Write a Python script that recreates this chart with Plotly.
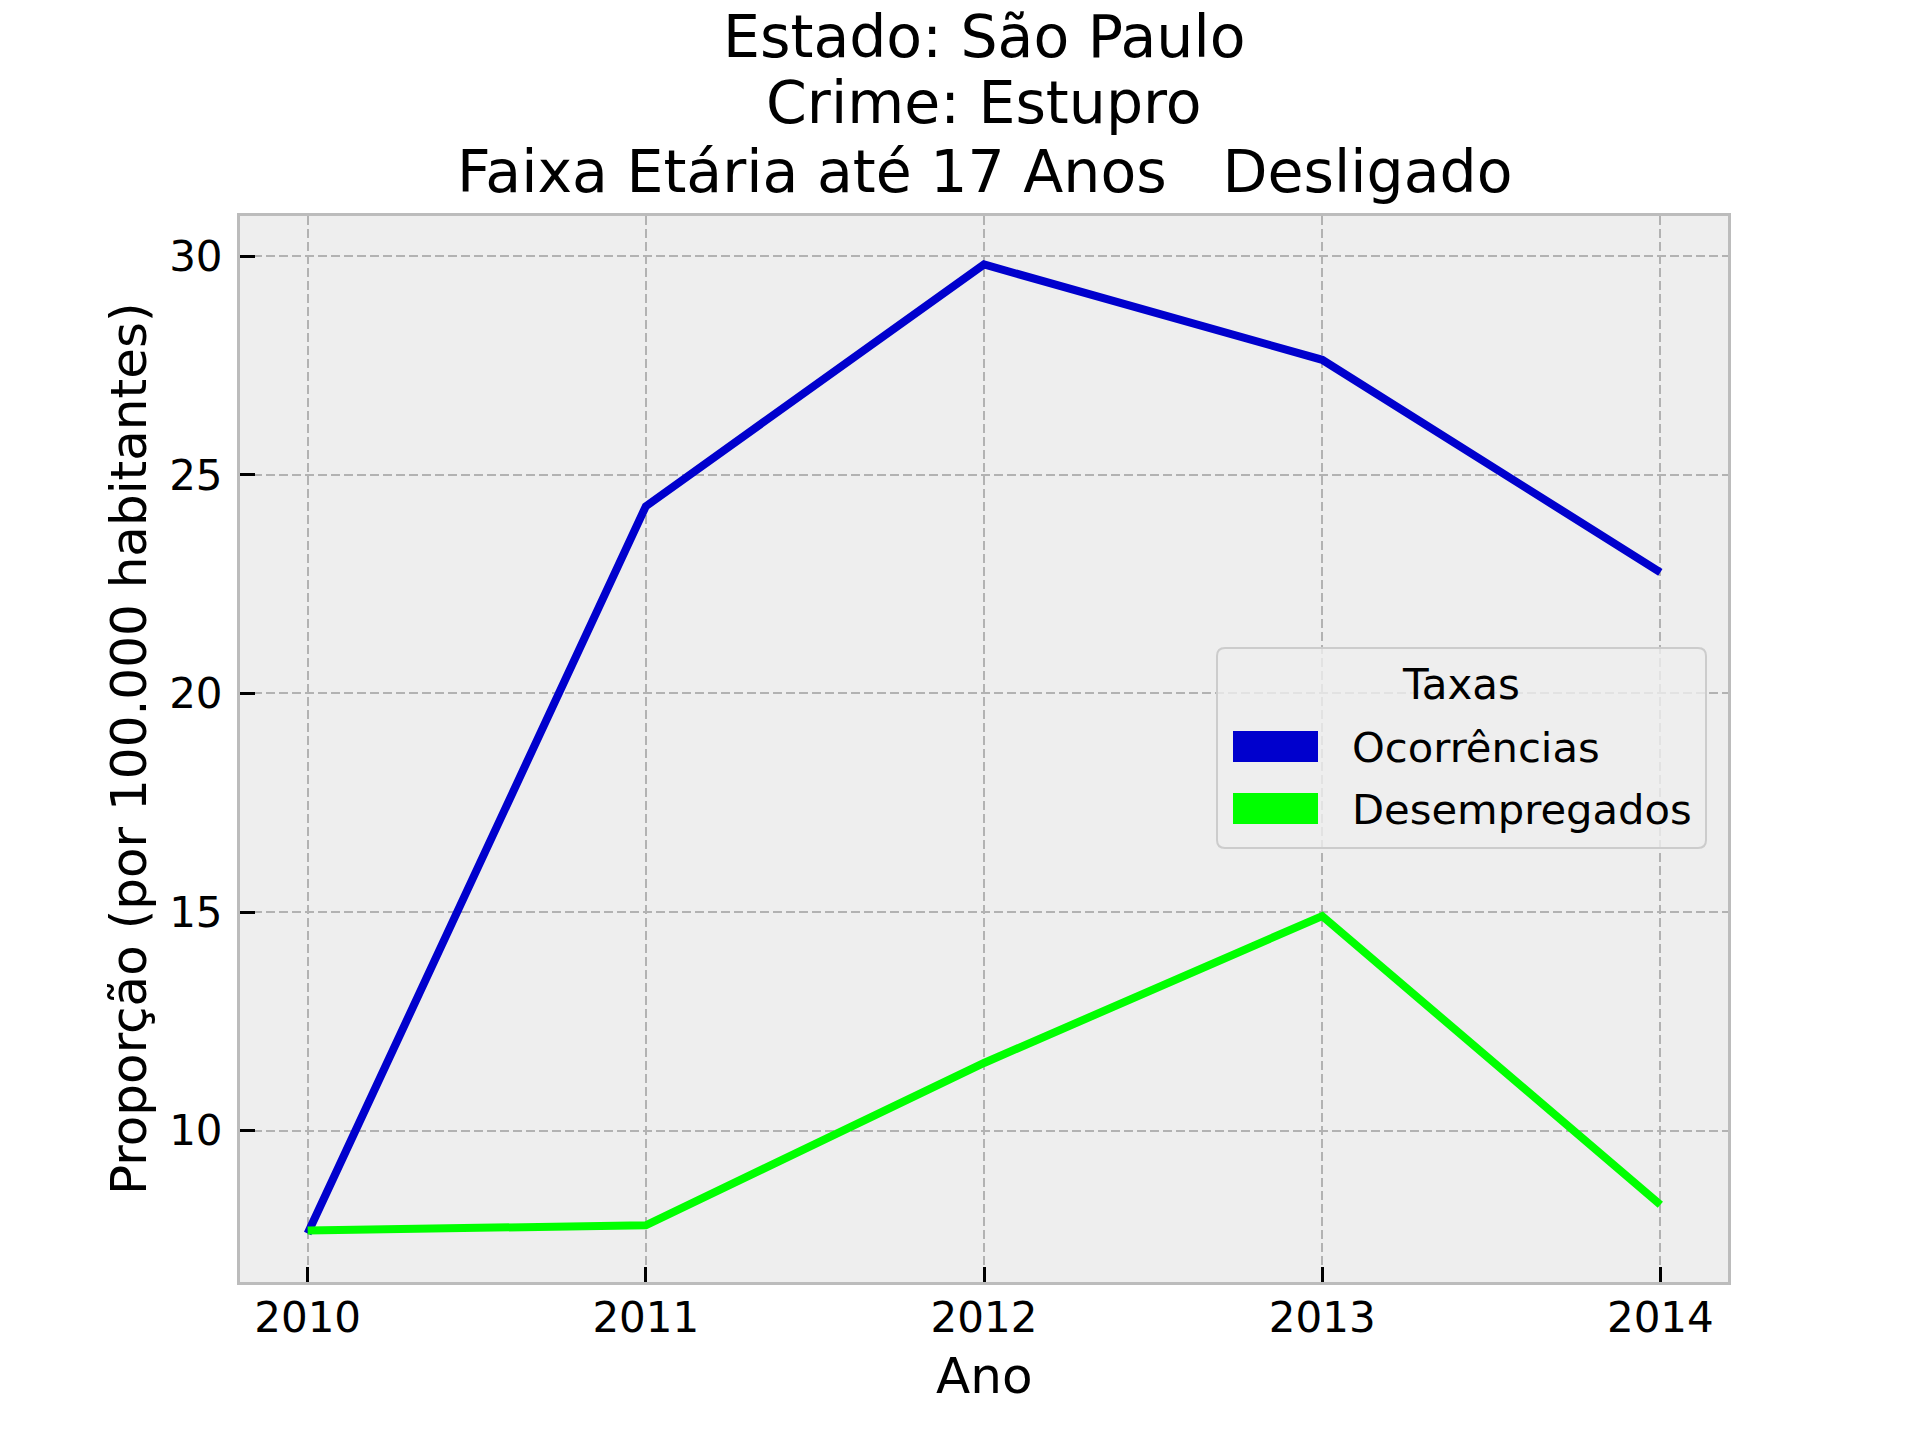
import plotly.graph_objects as go

# ---- data ----
anos = [2010, 2011, 2012, 2013, 2014]
ocorrencias = [7.65, 24.28, 29.81, 27.63, 22.77]
desempregados = [7.72, 7.84, 11.55, 14.91, 8.31]
serie_nomes = ["Ocorrências", "Desempregados"]
serie_cores = ["#0000CD", "#00FF00"]
titulo_linhas = ["Estado: São Paulo", "Crime: Estupro", "Faixa Etária até 17 Anos   Desligado"]
y_ticks = [10, 15, 20, 25, 30]
x_titulo = "Ano"
y_titulo = "Proporção (por 100.000 habitantes)"
legenda_titulo = "Taxas"

W, H = 1920, 1440
L, R, T, B = 240, 1728, 216, 1282
PW, PH = R - L, B - T

def px(xp):
    return (xp - L) / PW

def py(yp):
    return (B - yp) / PH

FONT = "DejaVu Sans"

allv = ocorrencias + desempregados
lo, hi = min(allv), max(allv)
pad = 0.05 * (hi - lo)
yr = [lo - pad, hi + pad]
xr = [anos[0] - 0.05 * (anos[-1] - anos[0]), anos[-1] + 0.05 * (anos[-1] - anos[0])]

fig = go.Figure()
for nome, vals, cor in zip(serie_nomes, [ocorrencias, desempregados], serie_cores):
    fig.add_trace(go.Scatter(x=anos, y=vals, mode="lines", name=nome,
                             line=dict(color=cor, width=8), showlegend=False))

axis_common = dict(
    showline=True, linecolor="#bcbcbc", linewidth=3, mirror=True,
    showgrid=True, gridcolor="#b2b2b2", gridwidth=2, griddash="9px,4px",
    ticks="inside", ticklen=15, tickwidth=3, tickcolor="black",
    tickfont=dict(family=FONT, size=42, color="black"),
    zeroline=False,
)

fig.update_xaxes(range=xr, tickvals=anos, ticktext=[str(a) for a in anos],
                 ticklabelstandoff=-3, **axis_common)
fig.update_yaxes(range=yr, tickvals=y_ticks, ticktext=[str(v) for v in y_ticks],
                 ticklabelstandoff=6, **axis_common)

ann = []
# title lines
for txt, yc in zip(titulo_linhas, [37, 103, 172]):
    ann.append(dict(text=txt, x=0.5, y=py(yc), xref="paper", yref="paper",
                    xanchor="center", yanchor="middle", showarrow=False,
                    font=dict(family=FONT, size=58.5, color="black")))
# axis titles
ann.append(dict(text=x_titulo, x=0.5, y=py(1376), xref="paper", yref="paper",
                xanchor="center", yanchor="middle", showarrow=False,
                font=dict(family=FONT, size=50, color="black")))
ann.append(dict(text=y_titulo, x=px(129), y=0.5, xref="paper", yref="paper",
                xanchor="center", yanchor="middle", showarrow=False, textangle=-90,
                font=dict(family=FONT, size=50, color="black")))

# legend (manual, matplotlib-like)
lx0, lx1, ly0, ly1 = px(1217), px(1706), py(848), py(648)
rx, ry = 8 / PW, 8 / PH
path = (f"M{lx0+rx},{ly1} L{lx1-rx},{ly1} Q{lx1},{ly1} {lx1},{ly1-ry} "
        f"L{lx1},{ly0+ry} Q{lx1},{ly0} {lx1-rx},{ly0} L{lx0+rx},{ly0} "
        f"Q{lx0},{ly0} {lx0},{ly0+ry} L{lx0},{ly1-ry} Q{lx0},{ly1} {lx0+rx},{ly1} Z")
shapes = [dict(type="path", path=path, xref="paper", yref="paper",
               fillcolor="rgba(238,238,238,0.8)", line=dict(color="#cccccc", width=2))]
ann.append(dict(text=legenda_titulo, x=px(1461), y=py(684), xref="paper", yref="paper",
                xanchor="center", yanchor="middle", showarrow=False,
                font=dict(family=FONT, size=42, color="black")))
for i, (nome, cor) in enumerate(zip(serie_nomes, serie_cores)):
    top = 731 + i * 62
    shapes.append(dict(type="rect", xref="paper", yref="paper",
                       x0=px(1233), x1=px(1318), y0=py(top + 31), y1=py(top),
                       fillcolor=cor, line=dict(width=0)))
    ann.append(dict(text=nome, x=px(1350), y=py(top + 16), xref="paper", yref="paper",
                    xanchor="left", yanchor="middle", showarrow=False,
                    font=dict(family=FONT, size=41.7, color="black")))

fig.update_layout(
    width=W, height=H,
    margin=dict(l=L, r=W - R, t=T, b=H - B),
    paper_bgcolor="white", plot_bgcolor="#eeeeee",
    annotations=ann, shapes=shapes,
    showlegend=False,
    font=dict(family=FONT, color="black"),
)

fig.write_html("out.html")
